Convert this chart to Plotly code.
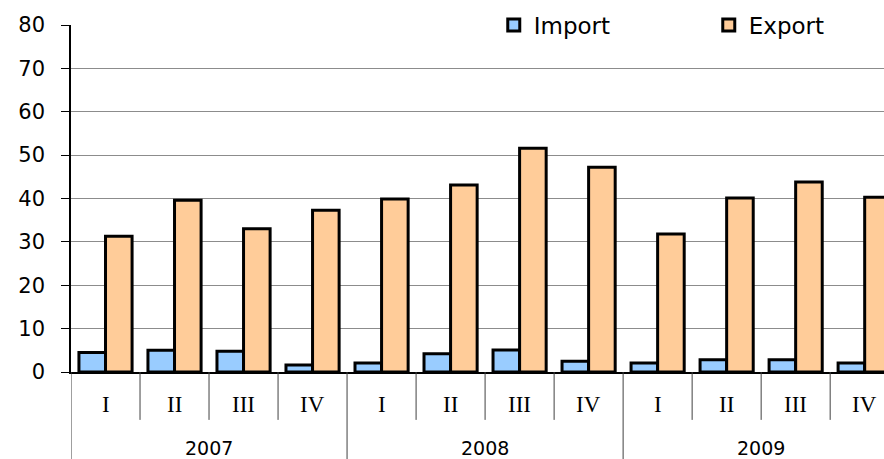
import plotly.graph_objects as go

years = ["2007", "2008", "2009"]
quarters = ["I", "II", "III", "IV"]
import_vals = [4.5, 5.0, 4.8, 1.6, 2.1, 4.2, 5.1, 2.5, 2.1, 2.8, 2.8, 2.1]
export_vals = [31.3, 39.6, 33.0, 37.3, 39.9, 43.1, 51.6, 47.2, 31.8, 40.1, 43.8, 40.3]

n = len(import_vals)
xs = list(range(n))
q_labels = [quarters[i % 4] for i in range(n)]

fig = go.Figure()
fig.add_trace(go.Bar(x=xs, y=import_vals, name="Import",
                     marker=dict(color="#99CCFF", line=dict(color="black", width=3))))
fig.add_trace(go.Bar(x=xs, y=export_vals, name="Export",
                     marker=dict(color="#FFCC99", line=dict(color="black", width=3))))

shapes = []
annotations = []
for i in range(n - 1):
    b = i + 0.5
    is_year = (i + 1) % 4 == 0
    shapes.append(dict(type="line", xref="x", yref="paper", x0=b, x1=b,
                       y0=0, y1=-0.26 if is_year else -0.138,
                       line=dict(color="#404040", width=1)))
shapes.append(dict(type="line", xref="x", yref="paper", x0=-0.5, x1=-0.5,
                   y0=0, y1=-0.26, line=dict(color="#404040", width=1)))
for i, q in enumerate(q_labels):
    annotations.append(dict(x=i, y=-0.095, xref="x", yref="paper", text=q,
                            showarrow=False, yanchor="middle",
                            font=dict(family="Liberation Serif", size=23, color="black")))
for j, yr in enumerate(years):
    annotations.append(dict(x=j * 4 + 1.5, y=-0.219, xref="x", yref="paper", text=yr,
                            showarrow=False, yanchor="middle",
                            font=dict(family="DejaVu Sans", size=19, color="black")))

fig.update_layout(
    width=884, height=459,
    margin=dict(l=71, r=0, t=25, b=87, autoexpand=False),
    paper_bgcolor="white", plot_bgcolor="white",
    barmode="group", bargap=0.23, bargroupgap=0,
    font=dict(family="DejaVu Sans", size=20, color="black"),
    showlegend=True,
    legend=dict(orientation="h", x=0.52, y=1.0, xanchor="left", yanchor="middle",
                bgcolor="white", font=dict(size=23), entrywidth=170,
                itemwidth=30),
    shapes=shapes, annotations=annotations,
)
fig.update_xaxes(range=[-0.5, 11.28], showticklabels=False, ticks="",
                 showgrid=False, zeroline=False, showline=True,
                 linecolor="black", linewidth=2, automargin=False)
fig.update_yaxes(range=[0, 80], dtick=10, showgrid=True, gridcolor="#8c8c8c",
                 gridwidth=1, ticks="outside", ticklen=8, tickcolor="black",
                 showline=True, linecolor="black", linewidth=1.5, zeroline=False,
                 tickfont=dict(size=21), ticklabelstandoff=12, automargin=False)

fig.write_html("out.html", config={"displayModeBar": False},
               post_script="document.body.style.margin='0';document.body.style.padding='0';document.body.style.overflow='hidden';")
